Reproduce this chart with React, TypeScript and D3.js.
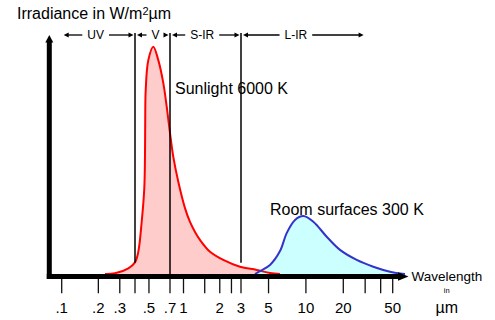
import React, { useMemo } from "react";
import * as d3 from "d3";

// Sunlight (6000 K) spectral irradiance, relative units (peak = 100)
const sunWavelength = [0.2268, 0.2741, 0.3524, 0.4, 0.4217, 0.4452, 0.4641, 0.4693, 0.4709, 0.4747, 0.4949, 0.536, 0.5804, 0.629, 0.6641, 0.7, 0.7638, 0.8715, 1.029, 1.132, 1.246, 1.37, 1.659, 2.139, 2.943, 4.015, 5.136, 6.184];
const sunIrradiance = [0, 0.3, 2.5, 5.1, 9.8, 23.0, 37.8, 52.4, 66.4, 80.9, 94.1, 100, 94.1, 84.0, 73.6, 62.0, 51.5, 40.6, 29.0, 22.9, 18.5, 15.0, 9.8, 6.2, 3.2, 1.8, 0.4, 0];

// Room surfaces (300 K), same relative units
const roomWavelength = [3.89, 4.267, 5.136, 6.184, 7.0, 8.17, 9.53, 11.47, 14.7, 18.81, 25.65, 34.88, 47.56, 57.25, 62.8];
const roomIrradiance = [0, 1.3, 4.0, 10.1, 18.0, 23.8, 25.5, 23.0, 16.4, 10.6, 6.2, 3.2, 1.0, 0.2, 0];

// Wavelength axis (µm)
const tickValues = [0.1, 0.2, 0.3, 0.4, 0.5, 0.7, 1, 1.5, 2, 2.5, 3, 5, 10, 20, 30, 40, 50];
const tickLabels = [".1", ".2", ".3", "", ".5", ".7", "1", "", "2", "", "3", "5", "10", "20", "", "", "50"];
const axisKnots = [0.1, 0.4, 0.7, 1, 3, 50];

// Spectral bands
const bandNames = ["UV", "V", "S-IR", "L-IR"];
const bandStart = [0.1, 0.4, 0.7, 3];
const bandEnd = [0.4, 0.7, 3, 30];
const bandLabelAt = [0.19, 0.555, 1.43, 8.3];
const boundaryValues = [0.4, 0.7, 3];
const boundaryBottom = [5, 0, 5];

const FONT = "'Liberation Sans', Arial, Helvetica, sans-serif";

function measure(text: string, size: number): number {
  const ctx = document.createElement("canvas").getContext("2d");
  if (!ctx) return text.length * size * 0.55;
  ctx.font = `${size}px 'Liberation Sans', Arial, sans-serif`;
  return ctx.measureText(text).width;
}

export default function App() {
  const W = 495;
  const H = 320;

  const xLog = d3
    .scaleLinear()
    .domain(axisKnots.map(Math.log10))
    .range([61.7, 135, 170, 183.5, 241, 392.7]);
  const x = (v: number) => xLog(Math.log10(v));
  const y = d3.scaleLinear().domain([0, 100]).range([274, 46.7]);

  const curve = d3.curveCatmullRom.alpha(0.5);

  const sunPts: [number, number][] = sunWavelength.map((w, i) => [w, sunIrradiance[i]]);
  const roomPts: [number, number][] = roomWavelength.map((w, i) => [w, roomIrradiance[i]]);

  const area = d3
    .area<[number, number]>()
    .x((d) => x(d[0]))
    .y0(y(0))
    .y1((d) => y(d[1]))
    .curve(curve);
  const line = d3
    .line<[number, number]>()
    .x((d) => x(d[0]))
    .y((d) => y(d[1]))
    .curve(curve);

  const bandY = 35;
  const bandFont = 12;
  const bandWidths = useMemo(() => bandNames.map((n) => measure(n, bandFont)), []);

  const arrowHead = (tipX: number, dir: number, yy: number, len = 5, hw = 2.5) =>
    `M${tipX},${yy}L${tipX - dir * len},${yy - hw}L${tipX - dir * len},${yy + hw}Z`;

  const axisY = 276.5;
  const yAxisX = 49.3;

  return (
    <svg
      width={W}
      height={H}
      style={{ position: "absolute", left: 0, top: 0, background: "#fff" }}
      fontFamily={FONT}
    >
      {/* spectra */}
      <path d={area(sunPts) ?? ""} fill="#ffcccc" />
      <path d={area(roomPts) ?? ""} fill="#ccffff" />
      <path d={line(sunPts) ?? ""} fill="none" stroke="#ff0000" strokeWidth={2} />
      <path d={line(roomPts) ?? ""} fill="none" stroke="#3333cc" strokeWidth={2} />

      {/* band boundaries */}
      {boundaryValues.map((b, i) => (
        <line
          key={`b${i}`}
          x1={x(b)}
          x2={x(b)}
          y1={33}
          y2={y(boundaryBottom[i])}
          stroke="#000"
          strokeWidth={1.5}
        />
      ))}

      {/* band arrows and labels */}
      {bandNames.map((n, i) => {
        const x0 = x(bandStart[i]) + 2;
        const x1 = x(bandEnd[i]) - 1.5;
        const cx = x(bandLabelAt[i]);
        const hw = bandWidths[i] / 2;
        const gap = 5;
        return (
          <g key={n}>
            <line x1={x0 + 4} x2={cx - hw - gap} y1={bandY} y2={bandY} stroke="#000" strokeWidth={1.3} />
            <line x1={cx + hw + gap} x2={x1 - 4} y1={bandY} y2={bandY} stroke="#000" strokeWidth={1.3} />
            <path d={arrowHead(x0, -1, bandY)} fill="#000" />
            <path d={arrowHead(x1, 1, bandY)} fill="#000" />
            <text x={cx} y={bandY + 4.3} textAnchor="middle" fontSize={bandFont} fill="#000">
              {n}
            </text>
          </g>
        );
      })}

      {/* y axis */}
      <line x1={yAxisX} x2={yAxisX} y1={279} y2={41} stroke="#000" strokeWidth={5} />
      <path d={`M${yAxisX},35L${yAxisX - 4},42.5L${yAxisX + 4},42.5Z`} fill="#000" />

      {/* x axis */}
      <line x1={46.8} x2={399} y1={axisY} y2={axisY} stroke="#000" strokeWidth={5} />
      <path d={`M408.5,${axisY}L398,${axisY - 4.3}L398,${axisY + 4.3}Z`} fill="#000" />

      {/* ticks */}
      {tickValues.map((t, i) => (
        <g key={`t${i}`}>
          <line x1={x(t)} x2={x(t)} y1={279} y2={293.3} stroke="#111" strokeWidth={1.3} />
          {tickLabels[i] && (
            <text x={x(t)} y={313.3} textAnchor="middle" fontSize={15} fill="#000">
              {tickLabels[i]}
            </text>
          )}
        </g>
      ))}

      {/* axis titles */}
      <text x={17} y={18.5} fontSize={16} fill="#000">
        Irradiance in W/m
        <tspan dy={-4} fontSize={11}>
          2
        </tspan>
        <tspan dy={4}>µm</tspan>
      </text>
      <text x={411.5} y={280.5} fontSize={13.5} fill="#000">
        Wavelength
      </text>
      <text x={446.7} y={293.3} fontSize={7.5} textAnchor="middle" fill="#000">
        in
      </text>
      <text x={446.7} y={312.7} fontSize={16} textAnchor="middle" fill="#000">
        µm
      </text>

      {/* curve labels */}
      <text x={175} y={94} fontSize={16} fill="#000">
        Sunlight 6000 K
      </text>
      <text x={270} y={215} fontSize={16} fill="#000">
        Room surfaces 300 K
      </text>
    </svg>
  );
}
